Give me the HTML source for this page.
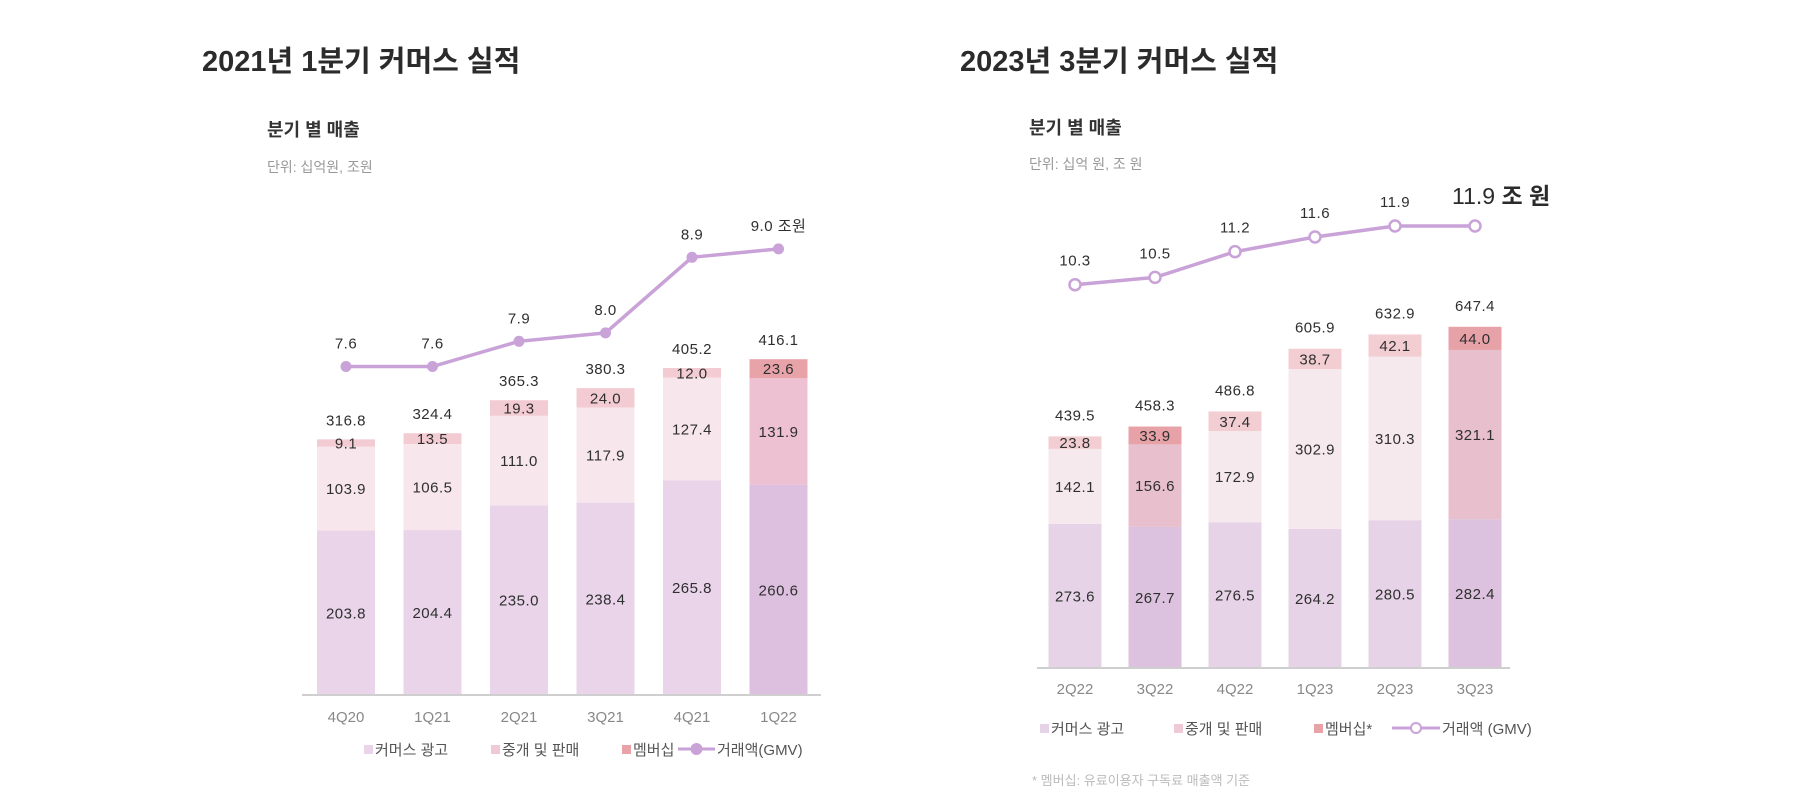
<!DOCTYPE html>
<html><head><meta charset="utf-8">
<style>
html,body{margin:0;padding:0;background:#fff;}
body{width:1798px;height:802px;overflow:hidden;position:relative;font-family:"Liberation Sans","Noto Sans CJK KR",sans-serif;}
svg{position:absolute;left:0;top:0;}
</style></head>
<body>
<svg id="c" width="1798" height="802" viewBox="0 0 1798 802">
<text x="202" y="71" font-size="29" font-weight="bold" fill="#2b2b2b" font-family="Liberation Sans, Noto Sans CJK KR, sans-serif">2021년 1분기 커머스 실적</text>
<text x="960" y="71" font-size="29" font-weight="bold" fill="#2b2b2b" font-family="Liberation Sans, Noto Sans CJK KR, sans-serif">2023년 3분기 커머스 실적</text>
<text x="267" y="136" font-size="18" font-weight="bold" fill="#333" font-family="Liberation Sans, Noto Sans CJK KR, sans-serif">분기 별 매출</text>
<text x="267" y="172" font-size="14" fill="#999" font-family="Liberation Sans, Noto Sans CJK KR, sans-serif">단위: 십억원, 조원</text>
<text x="1029" y="134" font-size="18" font-weight="bold" fill="#333" font-family="Liberation Sans, Noto Sans CJK KR, sans-serif">분기 별 매출</text>
<text x="1029" y="169" font-size="14" fill="#999" font-family="Liberation Sans, Noto Sans CJK KR, sans-serif">단위: 십억 원, 조 원</text>
<text x="1032" y="785" font-size="13" fill="#bbb" font-family="Liberation Sans, Noto Sans CJK KR, sans-serif">* 멤버십: 유료이용자 구독료 매출액 기준</text>
</svg>
<script>
// ---- left chart data ----
const leftCategories = ["4Q20","1Q21","2Q21","3Q21","4Q21","1Q22"];
const leftAds = [203.8,204.4,235.0,238.4,265.8,260.6];
const leftBrokerage = [103.9,106.5,111.0,117.9,127.4,131.9];
const leftTopSeg = [9.1,13.5,19.3,24.0,12.0,23.6];
const leftTotals = ["316.8","324.4","365.3","380.3","405.2","416.1"];
const leftGmv = [7.6,7.6,7.9,8.0,8.9,9.0];
const leftGmvLabels = ["7.6","7.6","7.9","8.0","8.9","9.0 조원"];
// ---- right chart data ----
const rightCategories = ["2Q22","3Q22","4Q22","1Q23","2Q23","3Q23"];
const rightAds = [273.6,267.7,276.5,264.2,280.5,282.4];
const rightBrokerage = [142.1,156.6,172.9,302.9,310.3,321.1];
const rightTopSeg = [23.8,33.9,37.4,38.7,42.1,44.0];
const rightTotals = ["439.5","458.3","486.8","605.9","632.9","647.4"];
const rightGmv = [10.3,10.5,11.2,11.6,11.9,11.9];
const rightGmvLabels = ["10.3","10.5","11.2","11.6","11.9",""];

const NS="http://www.w3.org/2000/svg";
const svg=document.getElementById('c');
function mk(tag,attrs,parent){const e=document.createElementNS(NS,tag);for(const k in attrs)e.setAttribute(k,attrs[k]);(parent||svg).appendChild(e);return e;}
const FONT="Liberation Sans, Noto Sans CJK KR, sans-serif";

function draw(o){
  const g=mk('g',{});
  
  
  const xs=i=>o.x0+o.step*i;
  const ys=v=>o.base-v*o.k;
  const yg=v=>o.g0-(v-o.gref)*o.gk;
  const n=o.cats.length;
  for(let i=0;i<n;i++){
    const cx=xs(i), w=o.bw;
    const segs=[[0,o.ads[i],o.cA[i],'ad-segment'],[o.ads[i],o.ads[i]+o.br[i],o.cB[i],'brokerage-segment'],[o.ads[i]+o.br[i],o.ads[i]+o.br[i]+o.top[i],o.cC[i],'top-segment']];
    const vals=[o.ads[i],o.br[i],o.top[i]];
    segs.forEach((s,j)=>{
      const r=mk('rect',{x:cx-w/2,y:ys(s[1]),width:w,height:ys(s[0])-ys(s[1]),fill:s[2]},g);
      
      
      const t=mk('text',{x:cx,y:(ys(s[0])+ys(s[1]))/2+5.5,'text-anchor':'middle','font-size':o.fs,fill:'#2f2f2f','font-family':FONT,'letter-spacing':'0.5'},g);
      t.textContent=vals[j].toFixed(1);
      
      
    });
    const tot=mk('text',{x:cx,y:ys(o.ads[i]+o.br[i]+o.top[i])-o.totOff,'text-anchor':'middle','font-size':o.fs,fill:'#2f2f2f','font-family':FONT,'letter-spacing':'0.5'},g);
    tot.textContent=o.totals[i];
    
    
    const xl=mk('text',{x:cx,y:o.xlY,'text-anchor':'middle','font-size':o.fs,fill:'#888','font-family':FONT},g);
    xl.textContent=o.cats[i];
    
    
  }
  const ax=mk('line',{x1:o.axL,x2:o.axR,y1:o.base,y2:o.base,stroke:'#cfcfcf','stroke-width':2},g);
  
  
  const pts=o.gmv.map((v,i)=>xs(i)+','+yg(v)).join(' ');
  const pl=mk('polyline',{points:pts,fill:'none',stroke:'#c9a2d8','stroke-width':3.5},g);
  
  
  o.gmv.forEach((v,i)=>{
    const c=mk('circle',{cx:xs(i),cy:yg(v),r:5.5,fill:o.hollow?'#fff':'#c9a2d8',stroke:'#c9a2d8','stroke-width':o.hollow?2.5:0},g);
    
    
    if(o.gl[i]){
      const t=mk('text',{x:xs(i),y:yg(v)-o.gOff,'text-anchor':'middle','font-size':o.fs,fill:'#2f2f2f','font-family':FONT,'letter-spacing':'0.5'},g);
      t.textContent=o.gl[i];
      
      
    }
  });
  const L=o.legend;
  const items=[[L[0],o.cA[0],'커머스 광고'],[L[1],'#f0c9d6','중개 및 판매'],[L[2],'#e8a2a8',o.memLabel]];
  items.forEach((it,j)=>{
    const s=mk('rect',{x:it[0],y:o.legY-10,width:9,height:9,fill:it[1]},g);
    
    
    const t=mk('text',{x:it[0]+11,y:o.legY,'font-size':o.lfs,fill:'#555','font-family':FONT},g);
    t.textContent=it[2];
    
    
  });
  const ll=mk('line',{x1:L[3],x2:L[3]+o.llen,y1:o.legY-6,y2:o.legY-6,stroke:'#c9a2d8','stroke-width':3},g);
  
  
  const lc=mk('circle',{cx:L[3]+o.llen/2,cy:o.legY-6,r:5,fill:o.hollow?'#fff':'#c9a2d8',stroke:'#c9a2d8','stroke-width':2},g);
  
  
  const lt=mk('text',{x:L[3]+o.llen+2,y:o.legY,'font-size':o.lfs,fill:'#555','font-family':FONT},g);
  lt.textContent=o.gmvLabel;
  
  
}

const lA=['#e9d4ea','#e9d4ea','#e9d4ea','#e9d4ea','#e9d4ea','#ddc0e0'];
const lB=['#f7e7ed','#f7e7ed','#f7e7ed','#f7e7ed','#f7e7ed','#edc0d2'];
const lC=['#f3ccd3','#f3ccd3','#f3ccd3','#f3ccd3','#f3ccd3','#e8a3a9'];
draw({name:'left-chart',cats:leftCategories,ads:leftAds,br:leftBrokerage,top:leftTopSeg,totals:leftTotals,gmv:leftGmv,gl:leftGmvLabels,
  x0:346,step:86.5,bw:58,base:695,k:0.807,g0:366.5,gref:7.6,gk:84,cA:lA,cB:lB,cC:lC,fs:15,totOff:14,gOff:18,xlY:722,axL:302,axR:821,
  legend:[364,491,622,678],legY:755,lfs:15,llen:37,hollow:false,memLabel:'멤버십',gmvLabel:'거래액(GMV)'});

const rA=['#e7d3e7','#dcc2de','#e7d3e7','#e7d3e7','#e7d3e7','#dcc2de'];
const rB=['#f6e9ee','#e8c0cd','#f6e9ee','#f6e9ee','#f6e9ee','#e8c0cd'];
const rC=['#f2ced3','#e6a2a7','#f2ced3','#f2ced3','#f2ced3','#e6a2a7'];
draw({name:'right-chart',cats:rightCategories,ads:rightAds,br:rightBrokerage,top:rightTopSeg,totals:rightTotals,gmv:rightGmv,gl:rightGmvLabels,
  x0:1075,step:80,bw:53,base:668,k:0.527,g0:284.7,gref:10.3,gk:36.7,cA:rA,cB:rB,cC:rC,fs:15,totOff:16,gOff:19,xlY:694,axL:1037,axR:1510,
  legend:[1040,1174,1314,1392],legY:734,lfs:15,llen:48,hollow:true,memLabel:'멤버십*',gmvLabel:'거래액 (GMV)'});

const big=mk('text',{x:1452,y:204,'font-size':23,fill:'#2b2b2b','font-family':FONT});


const b1=mk('tspan',{},big); b1.textContent='11.9 ';
const b2=mk('tspan',{'font-weight':'bold'},big); b2.textContent='조 원';
</script>
</body></html>
